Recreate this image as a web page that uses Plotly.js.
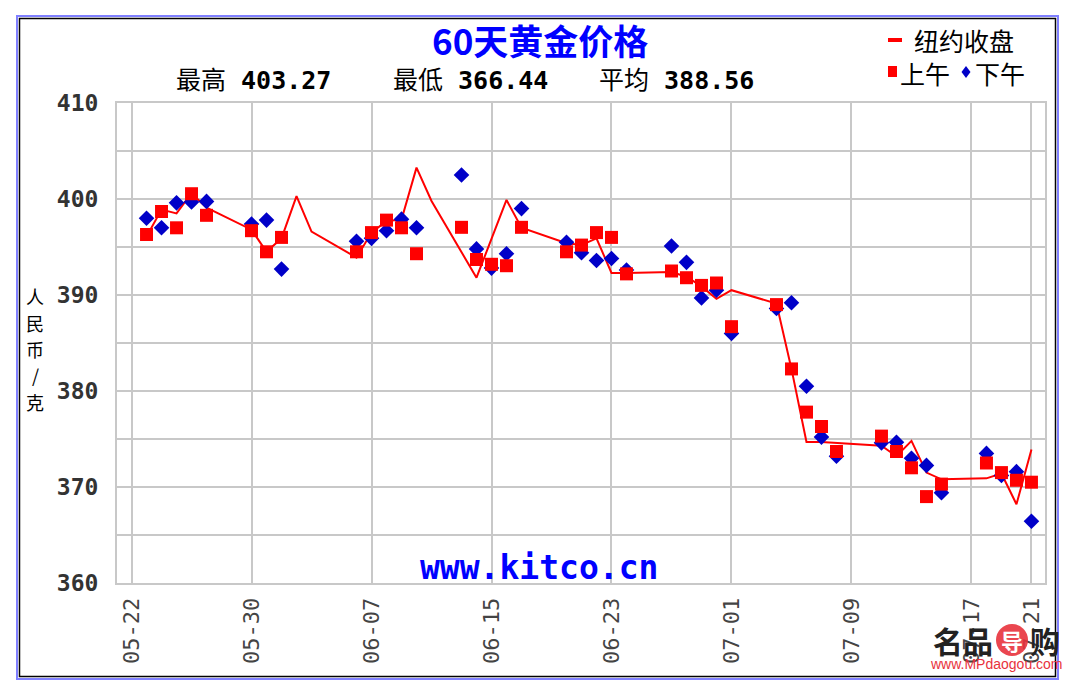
<!DOCTYPE html>
<html><head><meta charset="utf-8">
<script src="https://cdn.plot.ly/plotly-3.0.1.min.js"></script>
<style>html,body{margin:0;padding:0;background:#fff;} #chart{width:1080px;height:694px;}</style>
</head><body><div id="chart"></div>
<script>
// NY close (red line)
const closeDates = ['2022-05-23','2022-05-24','2022-05-25','2022-05-26','2022-05-27','2022-05-30','2022-05-31','2022-06-01','2022-06-02','2022-06-03',
  '2022-06-06','2022-06-07','2022-06-08','2022-06-09','2022-06-10','2022-06-11','2022-06-14','2022-06-16','2022-06-17',
  '2022-06-20','2022-06-21','2022-06-22','2022-06-23','2022-06-24','2022-06-27','2022-06-28','2022-06-29','2022-06-30','2022-07-01',
  '2022-07-04','2022-07-05','2022-07-06','2022-07-07','2022-07-08','2022-07-11','2022-07-12','2022-07-13','2022-07-14','2022-07-15',
  '2022-07-18','2022-07-19','2022-07-20','2022-07-21'];
const closeValues = [396.1,398.9,398.5,400.6,399.1,396.8,394.5,395.9,400.3,396.6,
  393.9,396.5,397.7,397.85,403.27,399.8,391.8,399.9,397.0,
  395.4,395.2,395.9,392.3,392.3,392.4,391.9,390.9,389.6,390.5,
  389.1,382.3,374.7,374.7,374.6,374.3,373.2,374.8,371.5,370.8,
  370.9,371.4,368.2,373.9];
// Shanghai sessions (AM squares, PM diamonds)
const sessionDates = ['2022-05-23','2022-05-24','2022-05-25','2022-05-26','2022-05-27','2022-05-30','2022-05-31','2022-06-01',
  '2022-06-06','2022-06-07','2022-06-08','2022-06-09','2022-06-10','2022-06-13','2022-06-14','2022-06-15','2022-06-16','2022-06-17',
  '2022-06-20','2022-06-21','2022-06-22','2022-06-23','2022-06-24','2022-06-27','2022-06-28','2022-06-29','2022-06-30','2022-07-01',
  '2022-07-04','2022-07-05','2022-07-06','2022-07-07','2022-07-08','2022-07-11','2022-07-12','2022-07-13','2022-07-14','2022-07-15',
  '2022-07-18','2022-07-19','2022-07-20','2022-07-21'];
const amValues = [396.3,398.7,397.0,400.55,398.3,396.7,394.5,396.0,
  394.5,396.5,397.8,397.0,394.3,397.05,393.7,393.2,393.05,397.05,
  394.5,395.2,396.5,396.0,392.2,392.5,391.8,391.0,391.25,386.7,
  389.0,382.3,377.8,376.3,373.7,375.3,373.7,372.0,369.0,370.3,
  372.5,371.5,370.7,370.5];
const pmValues = [398.0,397.0,399.6,399.7,399.75,397.4,397.8,392.7,
  395.6,395.9,396.7,397.9,397.0,402.5,394.8,392.8,394.3,399.0,
  395.5,394.4,393.6,393.8,392.6,395.1,393.4,389.7,390.5,386.0,
  388.6,389.2,380.5,375.2,373.2,374.6,374.65,373.0,372.25,369.4,
  373.5,371.2,371.6,366.44];
const tickDates = ['2022-05-22','2022-05-30','2022-06-07','2022-06-15','2022-06-23','2022-07-01','2022-07-09','2022-07-17','2022-07-21'];
const tickLabels = ['05-22','05-30','06-07','06-15','06-23','07-01','07-09','07-17','07-21'];
const yTickValues = [360,365,370,375,380,385,390,395,400,405,410];
const yTickLabels = ['360','','370','','380','','390','','400','','410'];
const statLabels = ['最高','最低','平均'];
const statValues = ['403.27','366.44','388.56'];
const titleText = '60天黄金价格';
const yTitleChars = ['人','民','币','/','克'];

const W=1080,H=694,L=117,R=1045,T=103,B=583;
const px = X => (X-L)/(R-L);
const py = Y => (B-Y)/(B-T);
const mono = "'DejaVu Sans Mono', 'Noto Sans CJK SC', monospace";
const cjk = "'Noto Sans CJK SC', sans-serif";

const traces = [
  {x: closeDates, y: closeValues, type:'scatter', mode:'lines', line:{color:'#ff0000', width:2}, hoverinfo:'skip'},
  {x: sessionDates, y: pmValues, type:'scatter', mode:'markers', marker:{symbol:'diamond', size:12, color:'#0000c8', line:{width:0}}},
  {x: sessionDates, y: amValues, type:'scatter', mode:'markers', marker:{symbol:'square', size:13, color:'#ff0000', line:{width:0}}}
];

const ann = [];
ann.push({xref:'paper', yref:'paper', x:px(540), y:py(40), xanchor:'center', yanchor:'middle', showarrow:false,
  text:'<b>'+titleText+'</b>', font:{family:cjk, size:35, color:'#0000ff'}, borderpad:0});
const statX = [175, 392, 598];
statLabels.forEach((s,i)=>{
  ann.push({xref:'paper', yref:'paper', x:px(statX[i]), y:py(81), xanchor:'left', yanchor:'middle', showarrow:false,
    text: s + ' <b>' + statValues[i] + '</b>', font:{family:mono, size:25, color:'#000'}, borderpad:0});
});
// legend
ann.push({xref:'paper', yref:'paper', x:px(912), y:py(40), xanchor:'left', yanchor:'middle', showarrow:false,
  text:'纽约收盘', font:{family:cjk, size:25, color:'#000'}});
ann.push({xref:'paper', yref:'paper', x:px(898), y:py(73), xanchor:'left', yanchor:'middle', showarrow:false,
  text:'上午', font:{family:cjk, size:25, color:'#000'}});
ann.push({xref:'paper', yref:'paper', x:px(973), y:py(73), xanchor:'left', yanchor:'middle', showarrow:false,
  text:'下午', font:{family:cjk, size:25, color:'#000'}});
// y axis title (stacked characters)
const yTitleY = [296, 322.5, 349, 375.5, 402];
yTitleChars.forEach((c,i)=>{
  ann.push({xref:'paper', yref:'paper', x:px(35), y:py(yTitleY[i]), xanchor:'center', yanchor:'middle', showarrow:false,
    text:c, font:{family:cjk, size:18, color:'#000'}, borderpad:0});
});
// watermark
ann.push({xref:'paper', yref:'paper', x:px(539), y:py(567), xanchor:'center', yanchor:'middle', showarrow:false,
  text:'<b>www.kitco.cn</b>', font:{family:mono, size:33, color:'#0000ff'}});
ann.push({xref:'paper', yref:'paper', x:px(995), y:py(640), xanchor:'right', yanchor:'middle', showarrow:false,
  text:'<b>名品</b>', font:{family:cjk, size:30, color:'#222'}});
ann.push({xref:'paper', yref:'paper', x:px(1012), y:py(640), xanchor:'center', yanchor:'middle', showarrow:false,
  text:'<b>导</b>', font:{family:cjk, size:22, color:'#fff'}});
ann.push({xref:'paper', yref:'paper', x:px(1028), y:py(640), xanchor:'left', yanchor:'middle', showarrow:false,
  text:'<b>购</b>', font:{family:cjk, size:30, color:'#222'}});
ann.push({xref:'paper', yref:'paper', x:px(996), y:py(664), xanchor:'center', yanchor:'middle', showarrow:false,
  text:'www.MPdaogou.com', font:{family:"'Liberation Sans', sans-serif", size:14, color:'#e8323c'}});

const shapes = [
  {type:'rect', xref:'paper', yref:'paper', x0:px(17), x1:px(1058), y0:py(16), y1:py(679), line:{color:'#8080ff', width:2}, layer:'below'},
  {type:'rect', xref:'paper', yref:'paper', x0:px(19.5), x1:px(1055.5), y0:py(18.5), y1:py(676.5), line:{color:'#000', width:1.5}, layer:'below'},
  {type:'line', xref:'paper', yref:'paper', x0:px(888), x1:px(902), y0:py(40), y1:py(40), line:{color:'#ff0000', width:4}},
  {type:'rect', xref:'paper', yref:'paper', x0:px(888), x1:px(897), y0:py(66), y1:py(77), fillcolor:'#ff0000', line:{width:0}},
  {type:'path', xref:'paper', yref:'paper', path:`M ${px(966)} ${py(66)} L ${px(970.5)} ${py(72)} L ${px(966)} ${py(78)} L ${px(961.5)} ${py(72)} Z`, fillcolor:'#0000c8', line:{width:0}},
  {type:'circle', xref:'paper', yref:'paper', x0:px(996), x1:px(1028), y0:py(624), y1:py(656), fillcolor:'#e8323c', line:{width:0}, opacity:0.9}
];

const layout = {
  width:W, height:H,
  margin:{l:L, r:W-R, t:T, b:H-B, autoexpand:false},
  paper_bgcolor:'#ffffff', plot_bgcolor:'#ffffff',
  showlegend:false,
  xaxis:{type:'date', range:['2022-05-21 00:45','2022-07-21 21:40'], tickvals:tickDates, ticktext:tickLabels,
    tickangle:-90, showgrid:true, gridcolor:'#c8c8c8', gridwidth:2, showline:true, mirror:true, linecolor:'#c8c8c8', linewidth:2,
    ticks:'', zeroline:false, tickfont:{family:mono, size:22, color:'#444'}, ticklabelstandoff:4, fixedrange:true},
  yaxis:{range:[360,410], tickvals:yTickValues, ticktext:yTickLabels, showgrid:true, gridcolor:'#c8c8c8', gridwidth:2,
    showline:true, mirror:true, linecolor:'#c8c8c8', linewidth:2, ticks:'', zeroline:false,
    tickfont:{family:mono, size:23, color:'#333', weight:'bold'}, ticklabelstandoff:12, fixedrange:true},
  annotations:ann, shapes:shapes
};
Plotly.newPlot('chart', traces, layout, {displayModeBar:false, staticPlot:true});
</script></body></html>
